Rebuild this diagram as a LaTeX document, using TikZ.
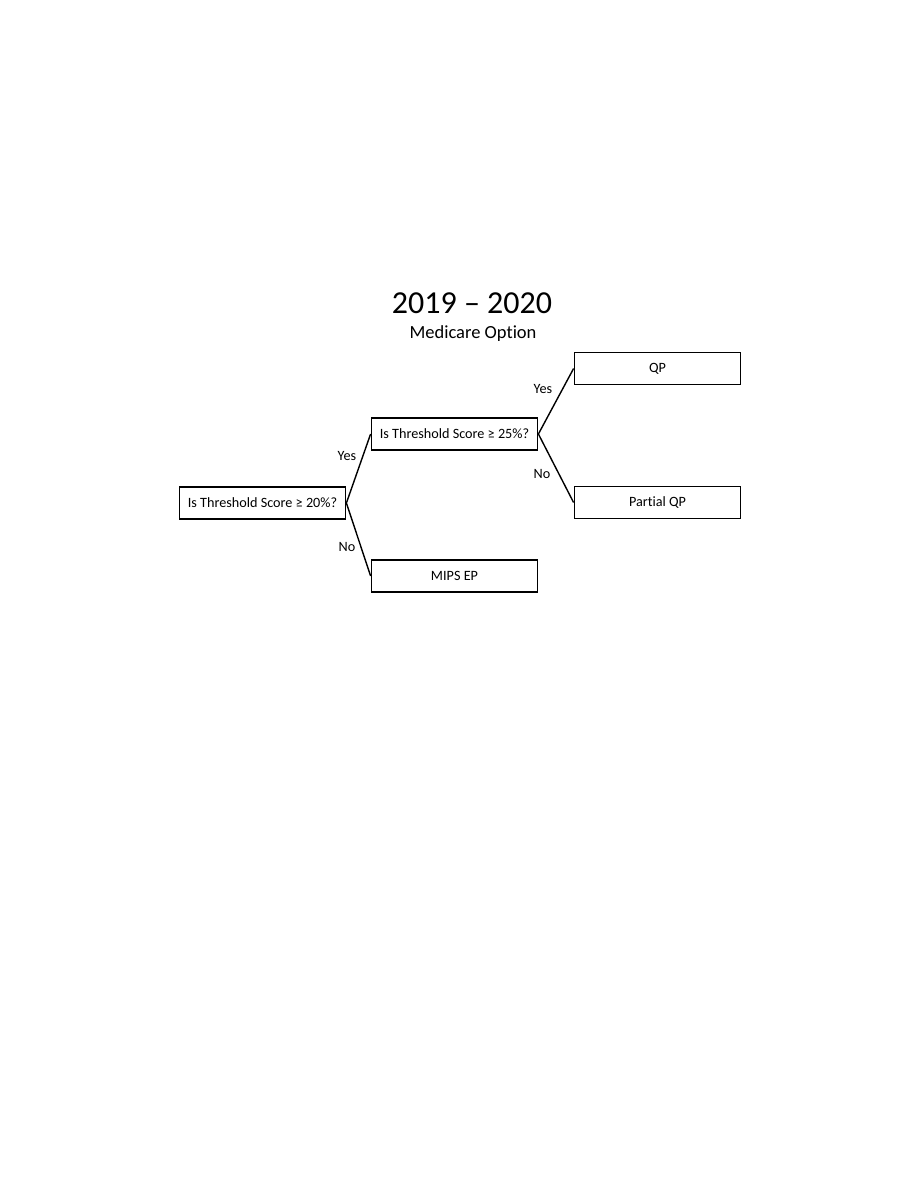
\documentclass[tikz,border=0pt]{standalone}
\usepackage{fontspec}
\setmainfont[Ligatures=NoCommon]{Carlito}
\begin{document}
\begin{tikzpicture}[x=1bp,y=-1bp,
  box/.style={draw=black,line width=1.8bp,minimum width=166bp,minimum height=32bp,inner sep=0pt,font=\fontsize{14.2bp}{16bp}\selectfont},
  lbl/.style={font=\fontsize{14.2bp}{16bp}\selectfont,inner sep=0pt},
  conn/.style={draw=black,line width=1.4bp}]
\useasboundingbox (0,0) rectangle (918,1188);
\fill[white] (0,0) rectangle (918,1188);
\node[font=\fontsize{32bp}{36bp}\selectfont,inner sep=0pt] (title) at (472,303) {2019 – 2020};
\node[font=\fontsize{18.5bp}{20bp}\selectfont,inner sep=0pt] (sub) at (473,334) {Medicare Option};
\node[box] (a) at (262.5,503) {Is Threshold Score ≥ 20\%?};
\node[box] (b) at (454.5,434) {Is Threshold Score ≥ 25\%?};
\node[box] (c) at (454.5,576) {MIPS EP};
\node[box] (qp) at (657.5,368.5) {QP};
\node[box] (pqp) at (657.5,502.5) {Partial QP};
\draw[conn] (a.east) -- (b.west);
\draw[conn] (a.east) -- (c.west);
\draw[conn] (b.east) -- (qp.west);
\draw[conn] (b.east) -- (pqp.west);
\node[lbl] (l1) at (347,456) {Yes};
\node[lbl] (l2) at (347,547) {No};
\node[lbl] (l3) at (543,389) {Yes};
\node[lbl] (l4) at (542,474) {No};
\end{tikzpicture}
\end{document}
